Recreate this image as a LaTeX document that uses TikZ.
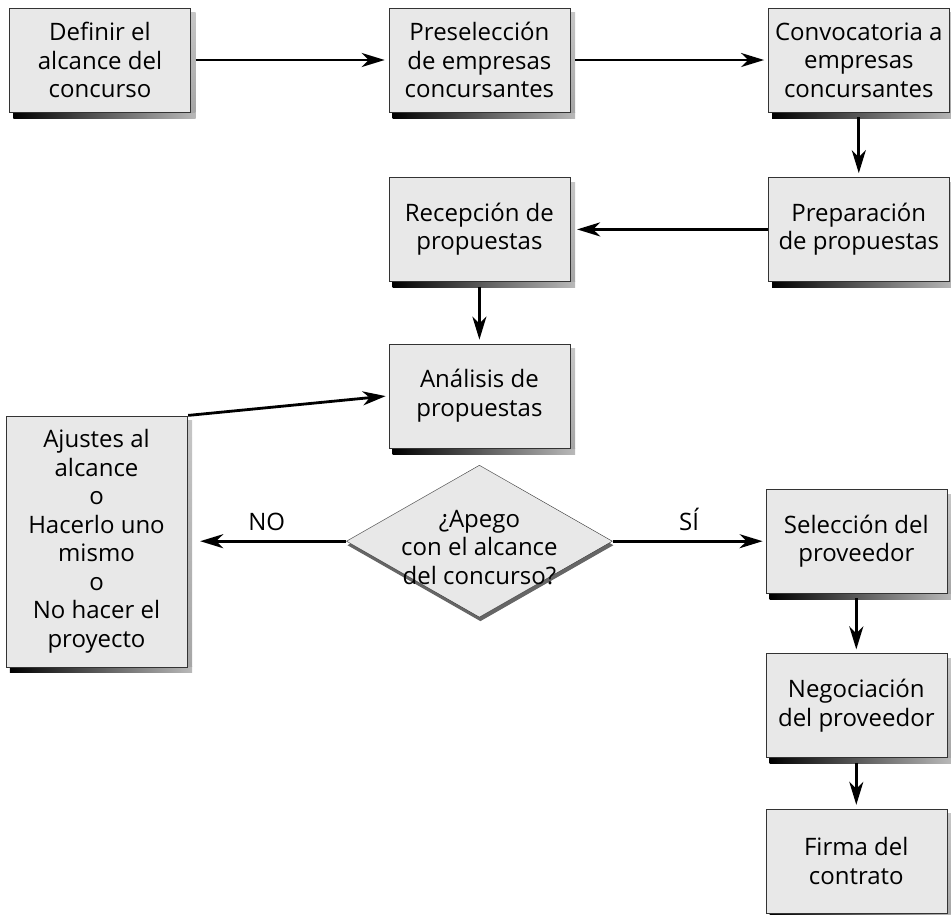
\documentclass[tikz,border=0pt]{standalone}
\usepackage{fontspec}
\setmainfont{Open Sans}
\usetikzlibrary{shapes.geometric, arrows.meta, positioning, shadows, backgrounds}

\begin{document}
\begin{tikzpicture}[
    x=1pt, y=-1pt,
    node distance=65pt and 198pt,
    txt/.style={font=\fontsize{24}{28.5}\selectfont},
    box/.style={rectangle, draw=black!80, fill=gray!18, txt,
                minimum width=181pt, minimum height=104pt, inner sep=2pt,
                align=center},
    decision/.style={diamond, draw=black!80, fill=gray!18, inner sep=0pt,
                minimum width=266pt, minimum height=152pt,
                drop shadow={shadow xshift=1pt, shadow yshift=-4pt,
                             fill=black!60, opacity=1}},
    arr/.style={->, >={Stealth[length=23pt, width=14pt, inset=7pt]},
                line width=2.8pt, shorten <=5pt, shorten >=4pt}
]
  \useasboundingbox (0,0) rectangle (951,914);

  \node[box] at (100,60)                (def)  {Definir el\\alcance del\\concurso};
  \node[box, right=of def]              (pre)  {Preselección\\de empresas\\concursantes};
  \node[box, right=of pre]              (con)  {Convocatoria a\\empresas\\concursantes};
  \node[box, below=of con]              (prep) {Preparación\\de propuestas};
  \node[box, left=of prep]              (rec)  {Recepción de\\propuestas};
  \node[box, below=62pt of rec]         (ana)  {Análisis de\\propuestas};
  \node[decision, below=17pt of ana, label={[txt, align=center,
        yshift=-6pt]center:¿Apego\\con el alcance\\del concurso?}] (dec) {};
  \node[box, right=153pt of dec]        (sel)  {Selección del\\proveedor};
  \node[box, below=60pt of sel]         (neg)  {Negociación\\del proveedor};
  \node[box, below=51pt of neg]         (fir)  {Firma del\\contrato};
  \node[box, left=159pt of dec, minimum height=251pt] (aju)
       {Ajustes al\\alcance\\o\\Hacerlo uno\\mismo\\o\\No hacer el\\proyecto};

  % sombras
  \begin{scope}[on background layer]
    \foreach \n in {def,pre,con,prep,rec,ana,sel,neg,fir,aju} {
      \shade[left color=black, right color=gray!55]
        ([xshift=4pt]\n.south west) rectangle ([xshift=5pt, yshift=-6pt]\n.south east);
      \shade[top color=gray!45, bottom color=gray!70]
        ([yshift=-5pt]\n.north east) rectangle ([xshift=5pt]\n.south east);
    }
  \end{scope}

  \draw[arr] (def)--(pre);  \draw[arr] (pre)--(con);
  \draw[arr] (con)--(prep);
  \draw[arr, shorten <=0pt, shorten >=7pt] (prep)--(rec);
  \draw[arr] (rec)--(ana);
  \draw[arr, shorten <=1pt, shorten >=3pt] (aju.north east)--(ana.west);
  \draw[arr, shorten <=0pt, shorten >=13pt] (dec.west)--(aju.east)
       node[midway, above=6pt, txt] (no) {NO};
  \draw[arr, shorten <=0pt, shorten >=3pt] (dec.east)--(sel.west)
       node[midway, above=6pt, txt] (si) {SÍ};
  \draw[arr] (sel)--(neg);  \draw[arr] (neg)--(fir);
\end{tikzpicture}
\end{document}
